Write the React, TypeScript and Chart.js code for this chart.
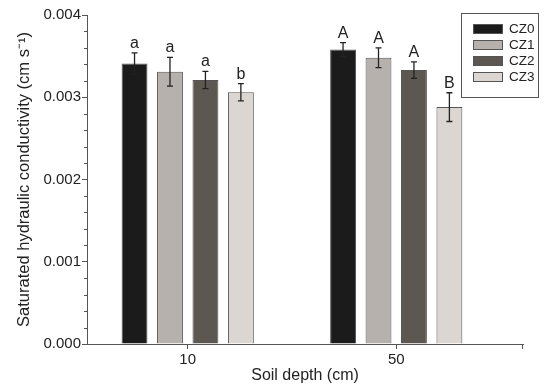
import React, { useEffect, useRef } from 'react';
import { Chart, registerables } from 'chart.js';

Chart.register(...registerables);

const categories = ['10', '50'];
const seriesNames = ['CZ0', 'CZ1', 'CZ2', 'CZ3'];
const cz0 = [0.00341, 0.00358];
const cz1 = [0.00331, 0.00348];
const cz2 = [0.00321, 0.00333];
const cz3 = [0.00306, 0.00288];
const cz0Err = [0.00013, 0.000085];
const cz1Err = [0.000175, 0.00012];
const cz2Err = [0.000105, 0.0001];
const cz3Err = [0.000105, 0.000175];
const cz0Sig = ['a', 'A'];
const cz1Sig = ['a', 'A'];
const cz2Sig = ['a', 'A'];
const cz3Sig = ['b', 'B'];
const yTicks = [0, 0.001, 0.002, 0.003, 0.004];

const seriesValues = [cz0, cz1, cz2, cz3];
const seriesErrors = [cz0Err, cz1Err, cz2Err, cz3Err];
const seriesSig = [cz0Sig, cz1Sig, cz2Sig, cz3Sig];
const fills = ['#1c1b1b', '#b6b1ad', '#5d5752', '#dbd6d1'];

const FONT = 'Arial, "Liberation Sans", Helvetica, sans-serif';
const AXIS = '#555555';
const TEXT = '#222222';

const errorBarPlugin = {
  id: 'errorBars',
  afterDatasetsDraw(chart: any) {
    const ctx = chart.ctx;
    const yScale = chart.scales.y;
    ctx.save();
    chart.data.datasets.forEach((ds: any, i: number) => {
      const meta = chart.getDatasetMeta(i);
      meta.data.forEach((el: any, j: number) => {
        const v = seriesValues[i][j];
        const e = seriesErrors[i][j];
        const yt = yScale.getPixelForValue(v + e);
        const yb = yScale.getPixelForValue(v - e);
        const x = el.x;
        ctx.strokeStyle = TEXT;
        ctx.lineWidth = 1.3;
        ctx.beginPath();
        ctx.moveTo(x, yt);
        ctx.lineTo(x, yb);
        ctx.moveTo(x - 3, yt);
        ctx.lineTo(x + 3, yt);
        ctx.moveTo(x - 3, yb);
        ctx.lineTo(x + 3, yb);
        ctx.stroke();
        ctx.fillStyle = TEXT;
        ctx.font = `16px ${FONT}`;
        ctx.textAlign = 'center';
        ctx.textBaseline = 'alphabetic';
        ctx.fillText(seriesSig[i][j], x, yt - 5);
      });
    });
    ctx.restore();
  },
};

const decorPlugin = {
  id: 'decor',
  afterDraw(chart: any) {
    const ctx = chart.ctx;
    const area = chart.chartArea;
    const yScale = chart.scales.y;
    ctx.save();
    ctx.strokeStyle = AXIS;
    ctx.lineWidth = 1;
    for (let k = 0; k < yTicks.length - 1; k++) {
      const step = (yTicks[k + 1] - yTicks[k]) / 5;
      for (let m = 1; m < 5; m++) {
        const py = Math.round(yScale.getPixelForValue(yTicks[k] + step * m)) + 0.5;
        ctx.beginPath();
        ctx.moveTo(area.left - 3, py);
        ctx.lineTo(area.left, py);
        ctx.stroke();
      }
    }
    ctx.beginPath();
    ctx.moveTo(Math.round(area.right) - 0.5, area.bottom);
    ctx.lineTo(Math.round(area.right) - 0.5, area.bottom + 5);
    ctx.stroke();

    const bx = area.right - 62;
    const by = area.top - 2;
    const bw = 77;
    const bh = 84;
    ctx.strokeStyle = AXIS;
    ctx.lineWidth = 1;
    ctx.strokeRect(Math.round(bx) + 0.5, Math.round(by) + 0.5, bw, bh);
    ctx.font = `13.5px ${FONT}`;
    ctx.textAlign = 'left';
    ctx.textBaseline = 'middle';
    seriesNames.forEach((name, i) => {
      const cy = by + 16 + i * 16;
      ctx.fillStyle = fills[i];
      ctx.fillRect(bx + 12, cy - 5, 30, 10);
      ctx.strokeStyle = AXIS;
      ctx.strokeRect(bx + 12.5, cy - 4.5, 29, 9);
      ctx.fillStyle = TEXT;
      ctx.fillText(name, bx + 48, cy + 0.5);
    });
    ctx.restore();
  },
};

export default function App() {
  const canvasRef = useRef<HTMLCanvasElement | null>(null);

  useEffect(() => {
    document.body.style.margin = '0';
    const canvas = canvasRef.current;
    if (!canvas) return;
    const datasets = seriesNames.map((name, i) => ({
      label: name,
      data: categories.map((_, j) => ({ x: j + 1, y: seriesValues[i][j] })),
      backgroundColor: fills[i],
      borderColor: AXIS,
      borderWidth: 1,
      categoryPercentage: 0.68,
      barPercentage: 0.73,
    }));
    const chart = new Chart(canvas, {
      type: 'bar',
      data: { datasets },
      options: {
        animation: false,
        responsive: false,
        maintainAspectRatio: false,
        layout: { padding: { top: 15, right: 27, left: 0, bottom: 0 } },
        plugins: { legend: { display: false }, tooltip: { enabled: false } },
        scales: {
          x: {
            type: 'linear',
            offset: false,
            bounds: 'data',
            min: 0.517,
            max: 2.608,
            afterBuildTicks: (s: any) => {
              s.ticks = categories.map((_, j) => ({ value: j + 1 }));
            },
            afterFit: (s: any) => {
              s.height = 48;
            },
            ticks: {
              autoSkip: false,
              callback: (v: any) => categories[Math.round(Number(v)) - 1] ?? '',
              font: { family: FONT, size: 15 },
              color: TEXT,
              padding: 2,
              maxRotation: 0,
            },
            grid: { offset: false, drawOnChartArea: false, drawTicks: true, tickLength: 5, color: AXIS },
            border: { color: AXIS, width: 1 },
            title: {
              display: true,
              text: 'Soil depth (cm)',
              font: { family: FONT, size: 16 },
              color: TEXT,
              padding: { top: 0, bottom: 7 },
            },
          },
          y: {
            min: 0,
            max: 0.004,
            afterBuildTicks: (s: any) => {
              s.ticks = yTicks.map((v) => ({ value: v }));
            },
            afterFit: (s: any) => {
              s.width = 87;
            },
            ticks: {
              callback: (v: any) => Number(v).toFixed(3),
              font: { family: FONT, size: 15 },
              color: TEXT,
              padding: 1,
            },
            grid: { drawOnChartArea: false, drawTicks: true, tickLength: 5, color: AXIS },
            border: { color: AXIS, width: 1 },
            title: {
              display: true,
              text: 'Saturated hydraulic conductivity (cm s\u207B\u00B9)',
              font: { family: FONT, size: 16.5 },
              color: TEXT,
              padding: { top: 15, bottom: 0 },
            },
          },
        },
      },
      plugins: [errorBarPlugin, decorPlugin],
    } as any);
    return () => chart.destroy();
  }, []);

  return (
    <div style={{ width: 550, height: 392, background: '#ffffff' }}>
      <canvas ref={canvasRef} width={550} height={392} style={{ display: 'block' }} />
    </div>
  );
}
